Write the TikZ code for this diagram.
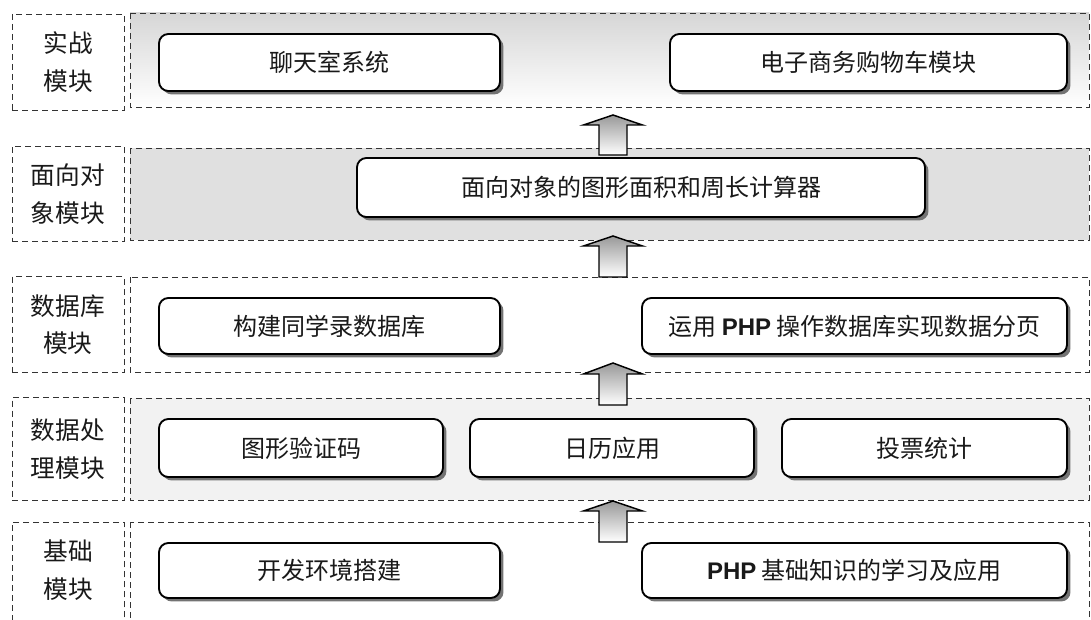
\documentclass[tikz,border=0pt]{standalone}
\usepackage{fontspec}
\setmainfont{Noto Sans CJK SC}
\newfontfamily\phpfont{Liberation Sans}
\usetikzlibrary{shadows}
\newcommand{\PHP}{{\phpfont\bfseries PHP}}
\begin{document}
\begin{tikzpicture}[x=0.75pt,y=-0.75pt,
  rowbox/.style={draw=black!80, dash pattern=on 4.5pt off 3pt, line width=0.7pt},
  labbox/.style={rowbox, align=center, font=\fontsize{18.5}{28}\selectfont, text=black!90},
  cbox/.style={draw=black, line width=1.4pt, rounded corners=7pt, fill=white,
    drop shadow={shadow xshift=2.6pt, shadow yshift=-2.6pt, fill=black!55, opacity=1},
    font=\fontsize{18}{20}\selectfont, text=black!90, inner sep=0pt},
  uparr/.style={draw=black, line width=1.1pt, shading=axis, top color=black!40, bottom color=white}
]
\useasboundingbox (0,0) rectangle (1091,620);
\clip (0,0) rectangle (1091,620);
% row backgrounds
\shade[top color=black!16, bottom color=white] (130,13) rectangle (1089,107);
\fill[black!12] (130,148) rectangle (1089,240);
\fill[black!5] (130,398) rectangle (1089,500);
% row frames
\draw[rowbox] (130,13) rectangle (1089,107) coordinate (row1);
\draw[rowbox] (130,148) rectangle (1089,240) coordinate (row2);
\draw[rowbox] (130,277) rectangle (1089,372) coordinate (row3);
\draw[rowbox] (130,398) rectangle (1089,500) coordinate (row4);
\draw[rowbox] (130,522) rectangle (1089,625) coordinate (row5);
% labels
\node[labbox, minimum width=112*0.75pt, minimum height=96*0.75pt] (lab1) at (68,62) {实战\\模块};
\node[labbox, minimum width=112*0.75pt, minimum height=95*0.75pt] (lab2) at (68,194) {面向对\\象模块};
\node[labbox, minimum width=112*0.75pt, minimum height=96*0.75pt] (lab3) at (68,324.5) {数据库\\模块};
\node[labbox, minimum width=112*0.75pt, minimum height=103*0.75pt] (lab4) at (68,449) {数据处\\理模块};
\node[labbox, minimum width=112*0.75pt, minimum height=103*0.75pt, anchor=north] (lab5) at (68,522) {};
\node[align=center, font=\fontsize{18.5}{28}\selectfont, text=black!90] (lab5t) at (68,570) {基础\\模块};
% content boxes
\node[cbox, minimum width=341*0.75pt, minimum height=57*0.75pt] (c11) at (329.5,62.5) {聊天室系统};
\node[cbox, minimum width=397*0.75pt, minimum height=57*0.75pt] (c12) at (868.5,62.5) {电子商务购物车模块};
\node[cbox, minimum width=568*0.75pt, minimum height=59*0.75pt] (c21) at (641,187.5) {面向对象的图形面积和周长计算器};
\node[cbox, minimum width=341*0.75pt, minimum height=56*0.75pt] (c31) at (329.5,326) {构建同学录数据库};
\node[cbox, minimum width=425*0.75pt, minimum height=56*0.75pt] (c32) at (854.5,326) {运用 \PHP{} 操作数据库实现数据分页};
\node[cbox, minimum width=284*0.75pt, minimum height=58*0.75pt] (c41) at (301,448) {图形验证码};
\node[cbox, minimum width=284*0.75pt, minimum height=58*0.75pt] (c42) at (612,448) {日历应用};
\node[cbox, minimum width=285*0.75pt, minimum height=58*0.75pt] (c43) at (924.5,448) {投票统计};
\node[cbox, minimum width=341*0.75pt, minimum height=55*0.75pt] (c51) at (329.5,570.5) {开发环境搭建};
\node[cbox, minimum width=425*0.75pt, minimum height=55*0.75pt] (c52) at (854.5,570.5) {\PHP{} 基础知识的学习及应用};
% block arrows
\foreach \t/\b/\e in {115/125/155, 236/246/277, 363/374/405, 501/511/542}{
  \draw[uparr] (613,\t) -- (642.5,\b) -- (627,\b) -- (627,\e) -- (599,\e) -- (599,\b) -- (583.5,\b) -- cycle;
}
\end{tikzpicture}
\end{document}
